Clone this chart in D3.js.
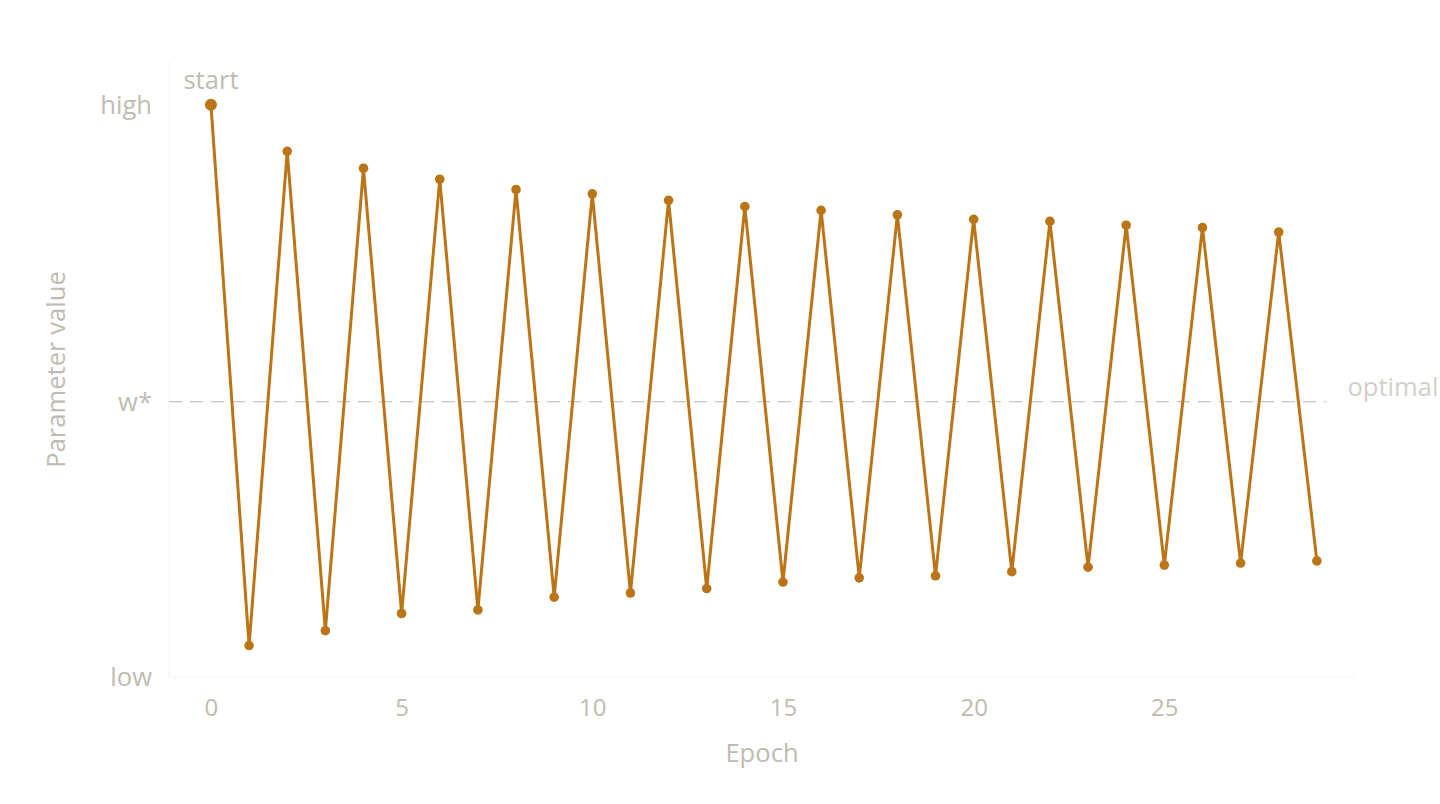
<!DOCTYPE html>
<html>
<head>
<meta charset="utf-8">
<script src="https://cdn.jsdelivr.net/npm/d3@7"></script>
<style>
  html, body { margin: 0; padding: 0; background: #ffffff; }
  svg { display: block; font-family: "Open Sans", "Noto Sans", sans-serif; }
</style>
</head>
<body>
<div id="chart"></div>
<script>
// Parameter value per epoch, relative to the optimum w* = 0
const epochs = d3.range(0, 30);
const values = [
  1.000, -0.822, 0.843, -0.772, 0.786, -0.714, 0.749, -0.702, 0.714, -0.659,
  0.700, -0.645, 0.678, -0.630, 0.657, -0.608, 0.644, -0.594, 0.629, -0.587,
  0.614, -0.573, 0.607, -0.558, 0.594, -0.551, 0.586, -0.544, 0.571, -0.537
];
const xTicks = [0, 5, 10, 15, 20, 25];
const yTickValues = [1.0, 0.0, -0.928];
const yTickLabels = ['high', 'w*', 'low'];
const xDomain = [-1.1, 30.0];
const yDomain = [-0.928, 1.144];
const optimalLine = { y: 0, x0: -1.1, x1: 29.25, label: 'optimal' };
const startLabel = 'start';

const W = 1440, H = 804;
const MARGIN = { top: 62, right: 85, bottom: 127, left: 169 };
const innerW = W - MARGIN.left - MARGIN.right;
const innerH = H - MARGIN.top - MARGIN.bottom;

const ACCENT = '#bb7517';
const TEXT = '#bfbbb1';
const TEXT_LIGHT = '#d3cfc8';
const FS = 25.6;

const svg = d3.select('#chart').append('svg')
  .attr('width', W)
  .attr('height', H);

const g = svg.append('g').attr('transform', `translate(${MARGIN.left}, ${MARGIN.top})`);

const x = d3.scaleLinear().domain(xDomain).range([0, innerW]);
const y = d3.scaleLinear().domain(yDomain).range([innerH, 0]);

// faint frame lines (left + bottom)
g.append('line')
  .attr('x1', 0).attr('x2', 0).attr('y1', 0).attr('y2', innerH)
  .attr('stroke', '#f5f3ef').attr('stroke-width', 1);
g.append('line')
  .attr('x1', 0).attr('x2', innerW).attr('y1', innerH).attr('y2', innerH)
  .attr('stroke', '#f5f3ef').attr('stroke-width', 1);

// optimum reference line
g.append('line')
  .attr('x1', x(optimalLine.x0)).attr('x2', x(optimalLine.x1))
  .attr('y1', y(optimalLine.y)).attr('y2', y(optimalLine.y))
  .attr('stroke', '#c8c5bf')
  .attr('stroke-width', 1.2)
  .attr('stroke-dasharray', '13,8');

g.append('text')
  .attr('x', x(optimalLine.x1) + 21)
  .attr('y', y(optimalLine.y) - 15)
  .attr('dy', '0.35em')
  .attr('font-size', FS)
  .attr('fill', TEXT_LIGHT)
  .text(optimalLine.label);

// x axis
const xAxis = g.append('g').attr('transform', `translate(0, ${innerH})`)
  .call(d3.axisBottom(x).tickValues(xTicks).tickSize(0).tickPadding(0));
xAxis.select('.domain').remove();
xAxis.selectAll('text')
  .attr('y', 31).attr('dy', '0.35em')
  .attr('font-family', '"Open Sans", "Noto Sans", sans-serif')
  .attr('font-size', 24)
  .attr('fill', TEXT);

// y axis
const yAxis = g.append('g')
  .call(d3.axisLeft(y).tickValues(yTickValues)
    .tickFormat((d, i) => yTickLabels[i]).tickSize(0).tickPadding(17));
yAxis.select('.domain').remove();
yAxis.selectAll('text')
  .attr('dy', '0.35em')
  .attr('font-family', '"Open Sans", "Noto Sans", sans-serif')
  .attr('font-size', FS)
  .attr('fill', TEXT);

// axis titles
svg.append('text')
  .attr('x', MARGIN.left + innerW / 2)
  .attr('y', 753)
  .attr('dy', '0.35em')
  .attr('text-anchor', 'middle')
  .attr('font-size', FS)
  .attr('fill', TEXT)
  .text('Epoch');

svg.append('text')
  .attr('transform', `translate(56, ${MARGIN.top + innerH / 2}) rotate(-90)`)
  .attr('dy', '0.35em')
  .attr('text-anchor', 'middle')
  .attr('font-size', FS)
  .attr('fill', TEXT)
  .text('Parameter value');

// trajectory
const pts = epochs.map((e, i) => ({ epoch: e, value: values[i] }));

g.append('path')
  .datum(pts)
  .attr('fill', 'none')
  .attr('stroke', ACCENT)
  .attr('stroke-width', 3)
  .attr('stroke-linejoin', 'round')
  .attr('d', d3.line().x(d => x(d.epoch)).y(d => y(d.value)));

g.selectAll('.pt')
  .data(pts)
  .join('circle')
  .attr('class', 'pt')
  .attr('cx', d => x(d.epoch))
  .attr('cy', d => y(d.value))
  .attr('r', (d, i) => i === 0 ? 6 : 4.8)
  .attr('fill', ACCENT);

// start annotation
g.append('text')
  .attr('x', x(pts[0].epoch))
  .attr('y', y(pts[0].value) - 25)
  .attr('dy', '0.35em')
  .attr('text-anchor', 'middle')
  .attr('font-size', FS)
  .attr('fill', TEXT)
  .text(startLabel);
</script>
</body>
</html>
